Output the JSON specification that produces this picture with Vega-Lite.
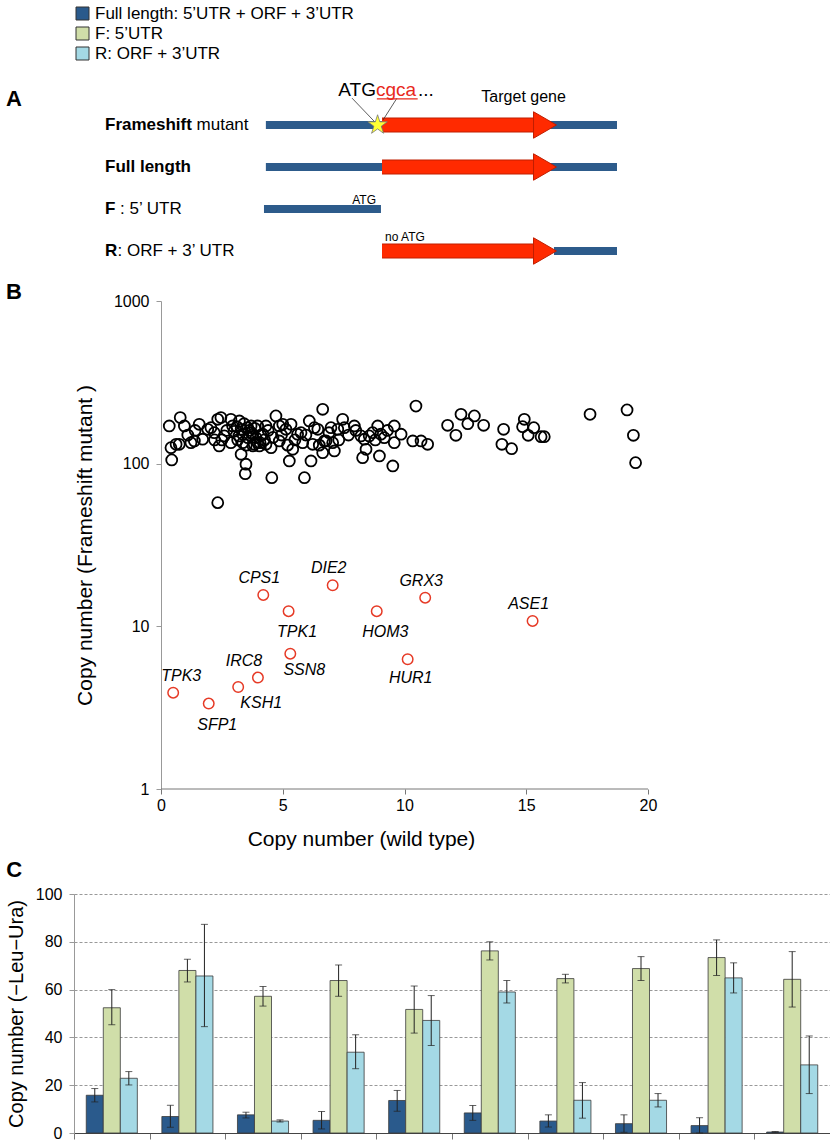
{
  "spacing": 10,
  "vconcat": [
    {
      "width": 757,
      "height": 190,
      "view": {"stroke": null},
      "layer": [
        {"data": {"values": [{"track": 1, "pos": 31.5, "pos_end": 74.06}, {"track": 2, "pos": 31.5, "pos_end": 74.06}, {"track": 3, "pos": 31.27, "pos_end": 45.45}, {"track": 4, "pos": 66.42, "pos_end": 74.06}]},
         "mark": {"type": "rule", "color": "#2d5b8b", "strokeWidth": 8},
         "encoding": {"x": {"field": "pos", "type": "quantitative", "scale": {"domain": [8.242, 100], "nice": false, "zero": false}, "axis": null}, "x2": {"field": "pos_end"},
                      "y": {"field": "track", "type": "quantitative", "scale": {"domain": [-0.0714, 4.4524], "reverse": true, "nice": false, "zero": false}, "axis": null}}},
        {"data": {"values": [{"track": 1, "pos": 45.58, "pos_end": 64.48}, {"track": 2, "pos": 45.58, "pos_end": 64.48}, {"track": 4, "pos": 45.58, "pos_end": 64.48}]},
         "mark": {"type": "rule", "color": "#c01e00", "strokeWidth": 15},
         "encoding": {"x": {"field": "pos", "type": "quantitative"}, "x2": {"field": "pos_end"}, "y": {"field": "track", "type": "quantitative"}}},
        {"data": {"values": [{"track": 1, "pos": 45.58, "pos_end": 64.48}, {"track": 2, "pos": 45.58, "pos_end": 64.48}, {"track": 4, "pos": 45.58, "pos_end": 64.48}]},
         "mark": {"type": "rule", "color": "#ff2a00", "strokeWidth": 13},
         "encoding": {"x": {"field": "pos", "type": "quantitative"}, "x2": {"field": "pos_end"}, "y": {"field": "track", "type": "quantitative"}}},
        {"data": {"values": [{"track": 1, "tip": 65.33}, {"track": 2, "tip": 65.33}, {"track": 4, "tip": 65.33}]},
         "mark": {"type": "point", "shape": "triangle-right", "size": 700, "filled": true, "fill": "#ff2a00", "stroke": "#c01e00", "strokeWidth": 1, "opacity": 1},
         "encoding": {"x": {"field": "tip", "type": "quantitative"}, "y": {"field": "track", "type": "quantitative"}}},
        {"data": {"values": [{"pos": 41.94, "pos_end": 44.6, "track": 0.36, "track_end": 0.905}, {"pos": 47.39, "pos_end": 45.7, "track": 0.36, "track_end": 0.881}]},
         "mark": {"type": "rule", "color": "#333", "strokeWidth": 0.8},
         "encoding": {"x": {"field": "pos", "type": "quantitative"}, "x2": {"field": "pos_end"}, "y": {"field": "track", "type": "quantitative"}, "y2": {"field": "track_end"}}},
        {"data": {"values": [{"pos": 45.04, "track": 1}]},
         "mark": {"type": "point", "shape": "M0,-1L0.2245,-0.309L0.951,-0.309L0.363,0.118L0.588,0.809L0,0.382L-0.588,0.809L-0.363,0.118L-0.951,-0.309L-0.2245,-0.309Z", "size": 420, "filled": true, "fill": "#ffff33", "stroke": "#777", "strokeWidth": 0.8, "opacity": 1},
         "encoding": {"x": {"field": "pos", "type": "quantitative"}, "y": {"field": "track", "type": "quantitative"}}},
        {"data": {"values": [{"pos": 44.95, "pos_end": 49.9, "track": 0.38}]},
         "mark": {"type": "rule", "color": "#e8291c", "strokeWidth": 1.2},
         "encoding": {"x": {"field": "pos", "type": "quantitative"}, "x2": {"field": "pos_end"}, "y": {"field": "track", "type": "quantitative"}}},
        {"data": {"values": [{"text": "Frameshift", "track": 1, "pos": 12.0}, {"text": "Full length", "track": 2, "pos": 12.0}, {"text": "F", "track": 3, "pos": 12.0}, {"text": "R", "track": 4, "pos": 12.0}]},
         "mark": {"type": "text", "fontSize": 17, "fontWeight": "bold", "align": "left"},
         "encoding": {"x": {"field": "pos", "type": "quantitative"}, "y": {"field": "track", "type": "quantitative"}, "text": {"field": "text"}}},
        {"data": {"values": [{"text": "A", "track": 0.38, "pos": 0}]},
         "mark": {"type": "text", "fontSize": 22, "fontWeight": "bold", "align": "left"},
         "encoding": {"x": {"field": "pos", "type": "quantitative"}, "y": {"field": "track", "type": "quantitative"}, "text": {"field": "text"}}},
        {"data": {"values": [{"text": "mutant", "track": 1, "pos": 23.1}, {"text": ": 5\u2019 UTR", "track": 3, "pos": 13.82}, {"text": ": ORF + 3\u2019 UTR", "track": 4, "pos": 13.52}]},
         "mark": {"type": "text", "fontSize": 17, "align": "left"},
         "encoding": {"x": {"field": "pos", "type": "quantitative"}, "y": {"field": "track", "type": "quantitative"}, "text": {"field": "text"}}},
        {"data": {"values": [{"text": "Target gene", "track": 0.326, "pos": 62.74}]},
         "mark": {"type": "text", "fontSize": 16, "align": "center"},
         "encoding": {"x": {"field": "pos", "type": "quantitative"}, "y": {"field": "track", "type": "quantitative"}, "text": {"field": "text"}}},
        {"data": {"values": [{"text": "ATG", "track": 0.155, "pos": 44.85}]},
         "mark": {"type": "text", "fontSize": 19, "align": "right"},
         "encoding": {"x": {"field": "pos", "type": "quantitative"}, "y": {"field": "track", "type": "quantitative"}, "text": {"field": "text"}}},
        {"data": {"values": [{"text": "cgca", "track": 0.155, "pos": 44.85}]},
         "mark": {"type": "text", "fontSize": 19, "align": "left", "color": "#e8291c"},
         "encoding": {"x": {"field": "pos", "type": "quantitative"}, "y": {"field": "track", "type": "quantitative"}, "text": {"field": "text"}}},
        {"data": {"values": [{"text": "...", "track": 0.155, "pos": 49.94}]},
         "mark": {"type": "text", "fontSize": 19, "align": "left"},
         "encoding": {"x": {"field": "pos", "type": "quantitative"}, "y": {"field": "track", "type": "quantitative"}, "text": {"field": "text"}}},
        {"data": {"values": [{"text": "ATG", "track": 2.786, "pos": 44.85}]},
         "mark": {"type": "text", "fontSize": 12, "align": "right"},
         "encoding": {"x": {"field": "pos", "type": "quantitative"}, "y": {"field": "track", "type": "quantitative"}, "text": {"field": "text"}}},
        {"data": {"values": [{"text": "no ATG", "track": 3.659, "pos": 45.94}]},
         "mark": {"type": "text", "fontSize": 12, "align": "left"},
         "encoding": {"x": {"field": "pos", "type": "quantitative"}, "y": {"field": "track", "type": "quantitative"}, "text": {"field": "text"}}}
      ]
    },
    {
      "width": 574,
      "height": 488,
      "view": {"stroke": null},
      "layer": [
        {"data": {"values": [
          {"wt":0.34,"fs":170.5},{"wt":0.79,"fs":192},{"wt":0.96,"fs":170.5},{"wt":0.41,"fs":125.4},{"wt":0.44,"fs":105.4},{"wt":0.62,"fs":131.6},{"wt":0.75,"fs":131.6},{"wt":1.23,"fs":134.6},{"wt":1.37,"fs":137.9},{"wt":1.57,"fs":174.7},
          {"wt":1.71,"fs":141.3},{"wt":1.92,"fs":162.7},{"wt":2.05,"fs":166.5},{"wt":2.19,"fs":155.1},{"wt":2.33,"fs":187.5},{"wt":2.46,"fs":192},{"wt":2.39,"fs":128.5},{"wt":2.6,"fs":148.1},{"wt":2.87,"fs":187.5},{"wt":2.94,"fs":170.5},
          {"wt":2.87,"fs":134.6},{"wt":3.22,"fs":183},{"wt":3.29,"fs":162.7},{"wt":3.36,"fs":151.7},{"wt":3.36,"fs":134.6},{"wt":3.29,"fs":114.2},{"wt":3.56,"fs":166.5},{"wt":3.7,"fs":170.5},{"wt":3.77,"fs":151.7},{"wt":3.49,"fs":99.2},
          {"wt":3.46,"fs":86.8},{"wt":3.83,"fs":131.6},{"wt":3.97,"fs":134.6},{"wt":4.04,"fs":128.5},{"wt":4.18,"fs":151.7},{"wt":4.31,"fs":170.5},{"wt":4.31,"fs":131.6},{"wt":4.52,"fs":125.4},{"wt":4.55,"fs":82.0},{"wt":4.72,"fs":196.5},
          {"wt":4.86,"fs":137.9},{"wt":5.0,"fs":174.7},{"wt":5.13,"fs":162.7},{"wt":5.27,"fs":103.9},{"wt":5.34,"fs":174.7},{"wt":5.41,"fs":122.6},{"wt":5.61,"fs":151.7},{"wt":5.75,"fs":155.1},{"wt":5.82,"fs":134.6},{"wt":5.89,"fs":82.0},
          {"wt":6.09,"fs":183},{"wt":6.16,"fs":103.9},{"wt":6.23,"fs":131.6},{"wt":6.3,"fs":166.5},{"wt":6.44,"fs":162.7},{"wt":6.64,"fs":216},{"wt":6.64,"fs":116.8},{"wt":6.71,"fs":137.9},{"wt":6.98,"fs":166.5},{"wt":7.05,"fs":134.6},
          {"wt":7.12,"fs":119.7},{"wt":7.26,"fs":162.7},{"wt":7.46,"fs":187.5},{"wt":7.53,"fs":166.5},{"wt":7.94,"fs":170.5},{"wt":8.21,"fs":148.1},{"wt":8.28,"fs":108.9},{"wt":8.35,"fs":141.3},{"wt":8.42,"fs":122.6},{"wt":8.69,"fs":155.1},
          {"wt":8.9,"fs":170.5},{"wt":8.97,"fs":111.5},{"wt":9.03,"fs":151.7},{"wt":9.17,"fs":144.5},{"wt":9.52,"fs":96.8},{"wt":9.58,"fs":170.5},{"wt":9.58,"fs":134.6},{"wt":2.33,"fs":57.6},{"wt":3.12,"fs":168.9},{"wt":3.2,"fs":148.1},
          {"wt":3.41,"fs":176},{"wt":3.57,"fs":144.5},{"wt":3.7,"fs":155.1},{"wt":3.78,"fs":128.5},{"wt":3.9,"fs":144.5},{"wt":3.97,"fs":170.5},{"wt":4.07,"fs":134.6},{"wt":4.86,"fs":170.5},{"wt":6.78,"fs":137.9},{"wt":8.55,"fs":148.1},
          {"wt":10.47,"fs":226},{"wt":9.86,"fs":151.7},{"wt":10.34,"fs":137.9},{"wt":10.68,"fs":137.9},{"wt":10.95,"fs":131.6},{"wt":11.77,"fs":172.2},{"wt":12.32,"fs":201},{"wt":12.11,"fs":149.5},{"wt":12.6,"fs":176},{"wt":12.87,"fs":196.5},
          {"wt":13.25,"fs":172.2},{"wt":14.07,"fs":162.7},{"wt":14.0,"fs":131.6},{"wt":14.4,"fs":123.7},{"wt":14.92,"fs":187.5},{"wt":14.85,"fs":168.9},{"wt":15.31,"fs":166.5},{"wt":15.08,"fs":149.5},{"wt":15.61,"fs":146.6},{"wt":15.74,"fs":146.6},
          {"wt":17.62,"fs":201},{"wt":19.14,"fs":214},{"wt":19.4,"fs":149.5},{"wt":19.49,"fs":101.4},{"wt":3.0,"fs":158},{"wt":3.15,"fs":140},{"wt":3.5,"fs":130},{"wt":3.62,"fs":160},{"wt":3.85,"fs":165},{"wt":4.1,"fs":150},
          {"wt":4.25,"fs":140},{"wt":4.4,"fs":160},{"wt":4.6,"fs":145},{"wt":2.7,"fs":160},{"wt":2.5,"fs":140},{"wt":1.1,"fs":150},{"wt":1.4,"fs":160},{"wt":5.5,"fs":140},{"wt":5.95,"fs":150},{"wt":6.5,"fs":130},
          {"wt":7.3,"fs":140},{"wt":7.7,"fs":150},{"wt":8.0,"fs":160},{"wt":8.8,"fs":140},{"wt":9.3,"fs":160},{"wt":2.2,"fs":140},{"wt":4.95,"fs":150},{"wt":5.2,"fs":130},{"wt":6.9,"fs":155}
         ]},
         "mark": {"type": "point", "filled": false, "color": "#000", "strokeWidth": 1.8, "size": 120, "opacity": 1},
         "encoding": {
           "x": {"field": "wt", "type": "quantitative", "scale": {"domain": [-3.573, 20], "nice": false, "zero": false},
                 "axis": {"values": [0, 5, 10, 15, 20], "title": "Copy number (wild type)", "titleFontSize": 21, "titleFontWeight": "normal", "labelFontSize": 16, "labelPadding": 3, "titlePadding": 15, "domain": false, "tickColor": "#777", "grid": false, "labelFlush": false}},
           "y": {"field": "fs", "type": "quantitative", "scale": {"type": "log", "domain": [1, 1000], "nice": false},
                 "axis": {"values": [1, 10, 100, 1000], "format": "d", "offset": -87, "title": "Copy number (Frameshift mutant )", "titleFontSize": 21, "titleFontWeight": "normal", "labelFontSize": 16, "labelPadding": 7, "titlePadding": 18, "domainColor": "#999", "tickColor": "#999", "grid": false}}
         }},
        {"data": {"values": [{"wt": 0, "wt_end": 20, "fs": 1}]},
         "mark": {"type": "rule", "color": "#777", "strokeWidth": 1},
         "encoding": {"x": {"field": "wt", "type": "quantitative"}, "x2": {"field": "wt_end"}, "y": {"field": "fs", "type": "quantitative"}}},
        {"data": {"values": [
          {"gene":"CPS1","wt":4.2,"fs":15.6},{"gene":"DIE2","wt":7.05,"fs":17.9},{"gene":"TPK1","wt":5.24,"fs":12.4},{"gene":"HOM3","wt":8.86,"fs":12.4},
          {"gene":"GRX3","wt":10.85,"fs":15.0},{"gene":"ASE1","wt":15.26,"fs":10.8},{"gene":"SSN8","wt":5.31,"fs":6.79},{"gene":"HUR1","wt":10.13,"fs":6.28},
          {"gene":"IRC8","wt":3.98,"fs":4.84},{"gene":"KSH1","wt":3.17,"fs":4.24},{"gene":"TPK3","wt":0.5,"fs":3.91},{"gene":"SFP1","wt":1.96,"fs":3.35}]},
         "mark": {"type": "point", "filled": false, "color": "#e63a26", "strokeWidth": 1.5, "size": 110, "opacity": 1},
         "encoding": {"x": {"field": "wt", "type": "quantitative"}, "y": {"field": "fs", "type": "quantitative"}}},
        {"data": {"values": [
          {"gene":"CPS1","wt":4.036,"fs":19.8},{"gene":"DIE2","wt":6.886,"fs":22.8},{"gene":"GRX3","wt":10.686,"fs":19.1},{"gene":"ASE1","wt":15.096,"fs":13.7},
          {"gene":"IRC8","wt":3.405,"fs":6.16},{"gene":"TPK3","wt":0.829,"fs":4.97},{"gene":"TPK1","wt":5.589,"fs":9.21},{"gene":"HOM3","wt":9.209,"fs":9.21},
          {"gene":"SFP1","wt":2.309,"fs":2.49},{"gene":"HUR1","wt":10.253,"fs":4.8},{"gene":"SSN8","wt":5.885,"fs":5.41},{"gene":"KSH1","wt":4.115,"fs":3.38}]},
         "mark": {"type": "text", "fontSize": 16, "fontStyle": "italic"},
         "encoding": {"x": {"field": "wt", "type": "quantitative"}, "y": {"field": "fs", "type": "quantitative"}, "text": {"field": "gene"}}},
        {"data": {"values": [{"label": "B", "wt": -6.366, "fs": 1136}]},
         "mark": {"type": "text", "fontSize": 22, "fontWeight": "bold", "align": "left"},
         "encoding": {"x": {"field": "wt", "type": "quantitative"}, "y": {"field": "fs", "type": "quantitative"}, "text": {"field": "label"}}}
      ]
    },
    {
      "width": 756,
      "height": 239,
      "view": {"stroke": null},
      "title": {"text": "C", "anchor": "start", "frame": "bounds", "fontSize": 22, "fontWeight": "bold"},
      "layer": [
        {"data": {"values": [
          {"gene":"ASE1","construct":"Full length: 5\u2019UTR + ORF + 3\u2019UTR","mean":15.8,"lo":13.0,"hi":18.6},{"gene":"ASE1","construct":"F: 5\u2019UTR","mean":52.4,"lo":45.3,"hi":60.0},{"gene":"ASE1","construct":"R: ORF + 3\u2019UTR","mean":22.9,"lo":20.1,"hi":25.7},
          {"gene":"CPS1","construct":"Full length: 5\u2019UTR + ORF + 3\u2019UTR","mean":6.9,"lo":2.4,"hi":11.6},{"gene":"CPS1","construct":"F: 5\u2019UTR","mean":68.0,"lo":63.2,"hi":72.7},{"gene":"CPS1","construct":"R: ORF + 3\u2019UTR","mean":65.7,"lo":44.5,"hi":87.3},
          {"gene":"DIE2","construct":"Full length: 5\u2019UTR + ORF + 3\u2019UTR","mean":7.6,"lo":6.3,"hi":8.7},{"gene":"DIE2","construct":"F: 5\u2019UTR","mean":57.2,"lo":53.1,"hi":61.3},{"gene":"DIE2","construct":"R: ORF + 3\u2019UTR","mean":5.0,"lo":4.6,"hi":5.5},
          {"gene":"FHL1","construct":"Full length: 5\u2019UTR + ORF + 3\u2019UTR","mean":5.3,"lo":1.7,"hi":9.0},{"gene":"FHL1","construct":"F: 5\u2019UTR","mean":63.8,"lo":57.2,"hi":70.3},{"gene":"FHL1","construct":"R: ORF + 3\u2019UTR","mean":33.8,"lo":26.9,"hi":41.1},
          {"gene":"GRX3","construct":"Full length: 5\u2019UTR + ORF + 3\u2019UTR","mean":13.6,"lo":9.1,"hi":17.8},{"gene":"GRX3","construct":"F: 5\u2019UTR","mean":51.7,"lo":41.8,"hi":61.5},{"gene":"GRX3","construct":"R: ORF + 3\u2019UTR","mean":47.1,"lo":36.6,"hi":57.5},
          {"gene":"HOM3","construct":"Full length: 5\u2019UTR + ORF + 3\u2019UTR","mean":8.4,"lo":5.3,"hi":11.5},{"gene":"HOM3","construct":"F: 5\u2019UTR","mean":76.2,"lo":72.4,"hi":80.0},{"gene":"HOM3","construct":"R: ORF + 3\u2019UTR","mean":59.0,"lo":54.4,"hi":63.8},
          {"gene":"IRC8","construct":"Full length: 5\u2019UTR + ORF + 3\u2019UTR","mean":5.0,"lo":2.5,"hi":7.6},{"gene":"IRC8","construct":"F: 5\u2019UTR","mean":64.6,"lo":62.8,"hi":66.4},{"gene":"IRC8","construct":"R: ORF + 3\u2019UTR","mean":13.7,"lo":6.2,"hi":21.1},
          {"gene":"SFP1","construct":"Full length: 5\u2019UTR + ORF + 3\u2019UTR","mean":3.9,"lo":0.3,"hi":7.6},{"gene":"SFP1","construct":"F: 5\u2019UTR","mean":68.8,"lo":63.8,"hi":73.8},{"gene":"SFP1","construct":"R: ORF + 3\u2019UTR","mean":13.7,"lo":10.9,"hi":16.5},
          {"gene":"TPK1","construct":"Full length: 5\u2019UTR + ORF + 3\u2019UTR","mean":3.1,"lo":0.0,"hi":6.4},{"gene":"TPK1","construct":"F: 5\u2019UTR","mean":73.4,"lo":65.9,"hi":80.8},{"gene":"TPK1","construct":"R: ORF + 3\u2019UTR","mean":64.9,"lo":58.6,"hi":71.2},
          {"gene":"TPK3","construct":"Full length: 5\u2019UTR + ORF + 3\u2019UTR","mean":0.4,"lo":0.3,"hi":0.6},{"gene":"TPK3","construct":"F: 5\u2019UTR","mean":64.3,"lo":52.7,"hi":75.9},{"gene":"TPK3","construct":"R: ORF + 3\u2019UTR","mean":28.5,"lo":16.5,"hi":40.6}
         ]},
         "layer": [
           {"mark": {"type": "bar", "stroke": "#3a3a3a", "strokeWidth": 0.8},
            "encoding": {
              "x": {"field": "gene", "type": "nominal", "scale": {"paddingInner": 0, "paddingOuter": 0},
                    "axis": {"title": null, "labelFontSize": 17, "labelFontStyle": "italic", "labelAngle": 0, "tickBand": "extent", "tickSize": 6, "labelPadding": 4, "domainColor": "#444", "tickColor": "#777"}},
              "xOffset": {"field": "construct", "type": "nominal", "sort": ["Full length: 5\u2019UTR + ORF + 3\u2019UTR", "F: 5\u2019UTR", "R: ORF + 3\u2019UTR"], "scale": {"paddingInner": 0, "paddingOuter": 0.72}},
              "y": {"field": "mean", "type": "quantitative", "scale": {"domain": [0, 100], "nice": false},
                    "axis": {"values": [0, 20, 40, 60, 80, 100], "title": "Copy number (\u2212Leu\u2212Ura)", "titleFontSize": 20, "titleFontWeight": "normal", "labelFontSize": 16, "labelPadding": 7, "titlePadding": 9, "domainColor": "#999", "tickColor": "#999", "grid": true, "gridDash": [3, 2], "gridColor": "#999"}},
              "color": {"field": "construct", "type": "nominal", "sort": ["Full length: 5\u2019UTR + ORF + 3\u2019UTR", "F: 5\u2019UTR", "R: ORF + 3\u2019UTR"],
                        "scale": {"domain": ["Full length: 5\u2019UTR + ORF + 3\u2019UTR", "F: 5\u2019UTR", "R: ORF + 3\u2019UTR"], "range": ["#2a5a8c", "#d0dea9", "#a4d9e5"]},
                        "legend": {"orient": "top", "direction": "vertical", "title": null, "symbolType": "square", "symbolSize": 169, "symbolStrokeColor": "#333", "symbolStrokeWidth": 1, "labelFontSize": 17, "labelLimit": 400}}
            }},
           {"mark": {"type": "rule", "color": "#222", "strokeWidth": 1},
            "encoding": {"x": {"field": "gene", "type": "nominal"},
                         "xOffset": {"field": "construct", "type": "nominal", "sort": ["Full length: 5\u2019UTR + ORF + 3\u2019UTR", "F: 5\u2019UTR", "R: ORF + 3\u2019UTR"]},
                         "y": {"field": "lo", "type": "quantitative"}, "y2": {"field": "hi"}}},
           {"mark": {"type": "tick", "color": "#222", "thickness": 1, "size": 7},
            "encoding": {"x": {"field": "gene", "type": "nominal"},
                         "xOffset": {"field": "construct", "type": "nominal", "sort": ["Full length: 5\u2019UTR + ORF + 3\u2019UTR", "F: 5\u2019UTR", "R: ORF + 3\u2019UTR"]},
                         "y": {"field": "lo", "type": "quantitative"}}},
           {"mark": {"type": "tick", "color": "#222", "thickness": 1, "size": 7},
            "encoding": {"x": {"field": "gene", "type": "nominal"},
                         "xOffset": {"field": "construct", "type": "nominal", "sort": ["Full length: 5\u2019UTR + ORF + 3\u2019UTR", "F: 5\u2019UTR", "R: ORF + 3\u2019UTR"]},
                         "y": {"field": "hi", "type": "quantitative"}}}
         ]},
        {"data": {"values": [{"gene":"ASE1","group":"I"},{"gene":"CPS1","group":"II"},{"gene":"DIE2","group":"I"},{"gene":"FHL1","group":"II"},{"gene":"GRX3","group":"II"},
                             {"gene":"HOM3","group":"II"},{"gene":"IRC8","group":"I"},{"gene":"SFP1","group":"I"},{"gene":"TPK1","group":"II"},{"gene":"TPK3","group":"II"}]},
         "layer": [
           {"transform": [{"filter": {"field": "group", "equal": "I"}}],
            "mark": {"type": "tick", "color": "#ff3b1f", "thickness": 3, "size": 48},
            "encoding": {"x": {"field": "gene", "type": "nominal"}, "y": {"datum": -13.2, "type": "quantitative"}}},
           {"transform": [{"filter": {"field": "group", "equal": "II"}}],
            "mark": {"type": "tick", "color": "#2d5a85", "thickness": 3, "size": 48},
            "encoding": {"x": {"field": "gene", "type": "nominal"}, "y": {"datum": -13.2, "type": "quantitative"}}}
         ]}
      ]
    }
  ]
}
